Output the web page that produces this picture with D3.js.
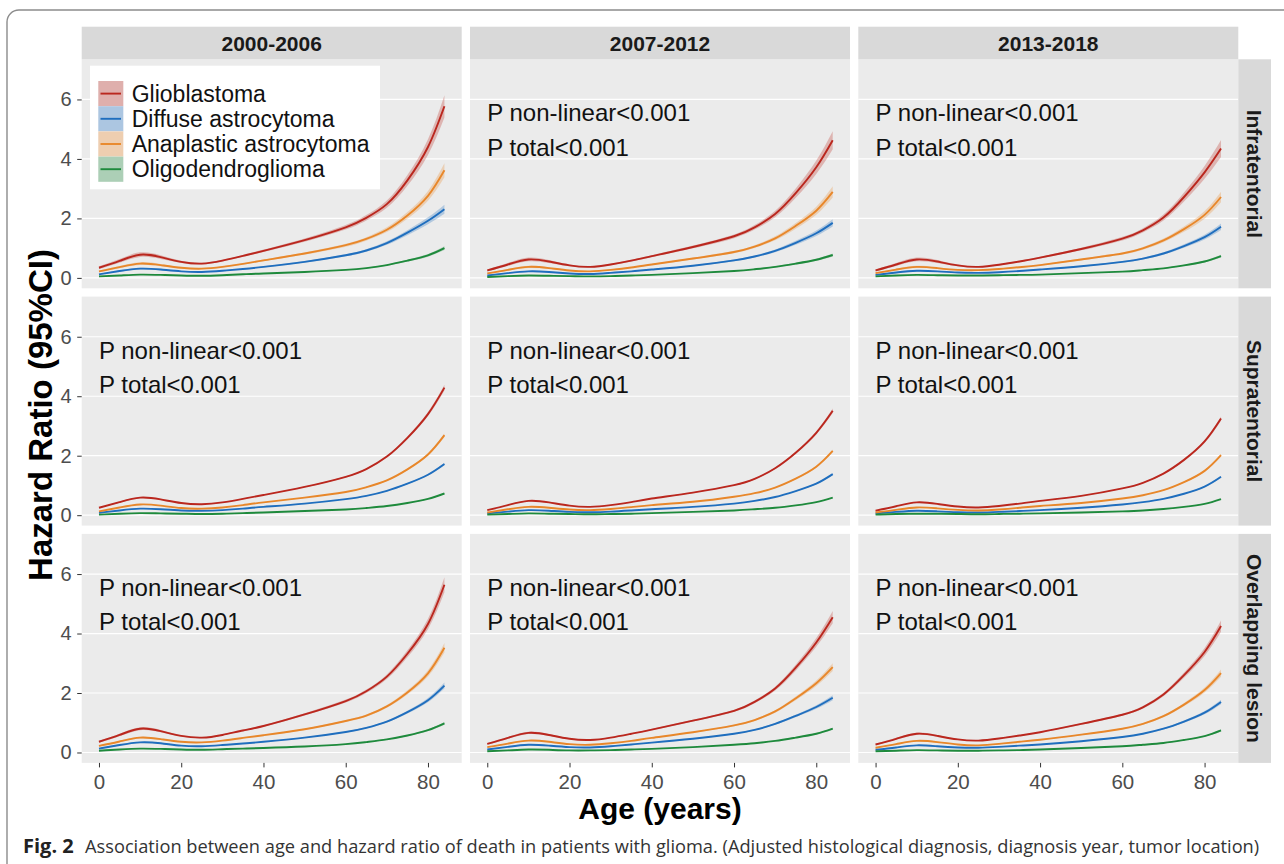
<!DOCTYPE html>
<html>
<head>
<meta charset="utf-8">
<script src="https://d3js.org/d3.v7.min.js"></script>
<style>
  body { margin: 0; background: #fff; }
  svg { display: block; }
</style>
</head>
<body>
<script>
// ---- data ----
const ages = [0, 5, 10, 15, 20, 25, 30, 35, 40, 50, 60, 65, 70, 75, 80, 84];

const periods = ['2000-2006', '2007-2012', '2013-2018'];
const locations = ['Infratentorial', 'Supratentorial', 'Overlapping lesion'];
const types = ['Glioblastoma', 'Diffuse astrocytoma', 'Anaplastic astrocytoma', 'Oligodendroglioma'];
const typeColors = ['#BA271E', '#1F6EBE', '#E8872A', '#1E8A3C'];

const xTicks = [0, 20, 40, 60, 80];
const yTicks = [0, 2, 4, 6];
const pLabels = ['P non-linear<0.001', 'P total<0.001'];

// hazard ratio per panel, rows in order of `types` (GBM, DA, AA, OD)
const infra2000 = [
  [0.34,0.57,0.78,0.70,0.54,0.48,0.58,0.74,0.91,1.27,1.70,2.02,2.48,3.28,4.40,5.77],
  [0.12,0.23,0.31,0.28,0.22,0.20,0.24,0.30,0.37,0.54,0.76,0.92,1.17,1.52,1.92,2.31],
  [0.22,0.36,0.48,0.43,0.34,0.31,0.37,0.47,0.59,0.82,1.10,1.31,1.62,2.10,2.76,3.62],
  [0.05,0.08,0.11,0.10,0.08,0.07,0.09,0.12,0.15,0.20,0.27,0.33,0.43,0.58,0.76,1.00]
];
const infra2007 = [
  [0.25,0.45,0.62,0.55,0.42,0.37,0.45,0.58,0.73,1.04,1.40,1.70,2.15,2.85,3.72,4.63],
  [0.08,0.16,0.22,0.20,0.15,0.13,0.17,0.22,0.28,0.41,0.59,0.72,0.91,1.18,1.50,1.85],
  [0.15,0.27,0.37,0.33,0.25,0.22,0.27,0.35,0.45,0.65,0.87,1.05,1.33,1.75,2.26,2.89],
  [0.03,0.06,0.08,0.07,0.06,0.05,0.06,0.08,0.10,0.16,0.23,0.29,0.37,0.48,0.61,0.77]
];
const infra2013 = [
  [0.25,0.45,0.62,0.55,0.42,0.37,0.44,0.55,0.68,0.97,1.32,1.60,2.03,2.72,3.55,4.35],
  [0.10,0.18,0.24,0.22,0.18,0.17,0.19,0.23,0.28,0.39,0.54,0.65,0.82,1.07,1.37,1.72],
  [0.16,0.28,0.37,0.33,0.27,0.26,0.30,0.36,0.43,0.62,0.82,0.99,1.26,1.64,2.12,2.72],
  [0.05,0.08,0.10,0.09,0.08,0.08,0.09,0.10,0.11,0.16,0.21,0.26,0.32,0.42,0.55,0.73]
];
const supra2000 = [
  [0.25,0.44,0.59,0.53,0.41,0.37,0.43,0.55,0.68,0.95,1.29,1.55,1.97,2.60,3.40,4.29],
  [0.08,0.16,0.22,0.20,0.16,0.15,0.17,0.22,0.28,0.39,0.54,0.65,0.82,1.06,1.36,1.72],
  [0.13,0.26,0.36,0.32,0.24,0.22,0.26,0.34,0.43,0.59,0.78,0.94,1.17,1.54,2.04,2.69],
  [0.02,0.05,0.07,0.06,0.05,0.04,0.05,0.07,0.09,0.14,0.19,0.24,0.31,0.41,0.55,0.73]
];
const supra2007 = [
  [0.17,0.34,0.48,0.43,0.32,0.28,0.34,0.44,0.56,0.76,1.01,1.22,1.58,2.10,2.77,3.51],
  [0.06,0.12,0.17,0.15,0.11,0.10,0.12,0.16,0.20,0.28,0.39,0.48,0.61,0.81,1.06,1.38],
  [0.09,0.20,0.28,0.25,0.19,0.17,0.21,0.27,0.34,0.45,0.62,0.74,0.93,1.23,1.63,2.16],
  [0.02,0.04,0.06,0.05,0.04,0.03,0.04,0.05,0.07,0.11,0.16,0.20,0.25,0.33,0.44,0.59]
];
const supra2013 = [
  [0.15,0.30,0.43,0.38,0.29,0.26,0.31,0.39,0.48,0.65,0.90,1.09,1.40,1.86,2.48,3.25],
  [0.06,0.11,0.15,0.13,0.10,0.09,0.11,0.14,0.17,0.25,0.36,0.44,0.55,0.72,0.96,1.29],
  [0.09,0.18,0.26,0.23,0.18,0.16,0.19,0.25,0.31,0.41,0.56,0.67,0.84,1.11,1.49,2.02],
  [0.02,0.04,0.05,0.05,0.04,0.03,0.04,0.05,0.06,0.09,0.13,0.16,0.21,0.28,0.38,0.54]
];
const overlap2000 = [
  [0.36,0.59,0.80,0.72,0.56,0.50,0.59,0.74,0.89,1.28,1.73,2.06,2.55,3.32,4.32,5.64],
  [0.13,0.25,0.34,0.31,0.23,0.21,0.25,0.30,0.36,0.50,0.69,0.83,1.04,1.36,1.76,2.25],
  [0.22,0.37,0.50,0.45,0.36,0.34,0.40,0.49,0.58,0.78,1.06,1.24,1.55,2.02,2.66,3.52],
  [0.06,0.10,0.13,0.12,0.10,0.09,0.11,0.13,0.15,0.20,0.28,0.35,0.44,0.57,0.75,0.98]
];
const overlap2007 = [
  [0.29,0.49,0.66,0.59,0.46,0.42,0.50,0.63,0.77,1.07,1.40,1.70,2.15,2.85,3.70,4.55],
  [0.10,0.19,0.26,0.23,0.18,0.17,0.21,0.27,0.33,0.46,0.63,0.76,0.96,1.23,1.53,1.84],
  [0.18,0.30,0.40,0.36,0.28,0.26,0.31,0.39,0.49,0.68,0.91,1.09,1.38,1.82,2.33,2.87],
  [0.04,0.07,0.10,0.09,0.07,0.07,0.08,0.10,0.12,0.18,0.26,0.31,0.39,0.50,0.63,0.80]
];
const overlap2013 = [
  [0.27,0.46,0.63,0.56,0.44,0.40,0.47,0.57,0.68,0.96,1.27,1.52,1.95,2.60,3.38,4.25],
  [0.09,0.17,0.24,0.21,0.17,0.16,0.19,0.23,0.27,0.38,0.52,0.63,0.80,1.04,1.34,1.70],
  [0.16,0.28,0.39,0.35,0.27,0.24,0.29,0.36,0.43,0.60,0.80,0.96,1.22,1.61,2.10,2.67],
  [0.04,0.06,0.08,0.07,0.06,0.06,0.07,0.08,0.10,0.15,0.21,0.26,0.32,0.42,0.55,0.74]
];

// 95% CI half width, as a fraction of HR, per location row
const ciInfra   = [0.14,0.11,0.10,0.09,0.07,0.06,0.05,0.045,0.045,0.045,0.045,0.045,0.05,0.055,0.06,0.065];
const ciSupra   = [0.05,0.04,0.035,0.03,0.025,0.02,0.018,0.016,0.015,0.015,0.015,0.015,0.016,0.018,0.02,0.022];
const ciOverlap = [0.09,0.07,0.06,0.05,0.04,0.035,0.03,0.028,0.028,0.028,0.028,0.028,0.03,0.035,0.04,0.045];

const panelData = [
  [infra2000, infra2007, infra2013],
  [supra2000, supra2007, supra2013],
  [overlap2000, overlap2007, overlap2013]
];
const ciRows = [ciInfra, ciSupra, ciOverlap];

// ---- layout ----
const W = 1284, H = 864;
const panelW = 380, panelH = 229;
const left0 = 81.7, top0 = 59.3;
const gapX = 8.3, gapY = 8.3;
const stripH = 32.6, stripW = 32.7;
const chartFont = '"Liberation Sans", Arial, Helvetica, sans-serif';

const svg = d3.select('body').append('svg')
  .attr('width', W)
  .attr('height', H)
  .style('font-family', chartFont);

svg.append('rect').attr('width', W).attr('height', H).attr('fill', '#fff');

// outer frame of the figure
svg.append('rect')
  .attr('x', 7).attr('y', 10)
  .attr('width', 1320).attr('height', 900)
  .attr('rx', 12)
  .attr('fill', 'none')
  .attr('stroke', '#8c8c8c')
  .attr('stroke-width', 1.4);

const x = d3.scaleLinear().domain([-4.2, 88.2]).range([0, panelW]);
const y = d3.scaleLinear().domain([-0.35, 7.35]).range([panelH, 0]);

const line = d3.line()
  .x(d => x(d.age))
  .y(d => y(d.hr))
  .curve(d3.curveNatural);

const area = d3.area()
  .x(d => x(d.age))
  .y0(d => y(d.lo))
  .y1(d => y(d.hi))
  .curve(d3.curveNatural);

for (let r = 0; r < locations.length; r++) {
  for (let c = 0; c < periods.length; c++) {

    const px = left0 + c * (panelW + gapX);
    const py = top0 + r * (panelH + gapY);
    const g = svg.append('g').attr('transform', `translate(${px},${py})`);

    g.append('rect')
      .attr('width', panelW).attr('height', panelH)
      .attr('fill', '#EBEBEB');

    g.selectAll('line.grid')
      .data(yTicks)
      .enter()
      .append('line')
        .attr('x1', 0).attr('x2', panelW)
        .attr('y1', d => y(d)).attr('y2', d => y(d))
        .attr('stroke', '#fff')
        .attr('stroke-width', 1.2);

    const series = panelData[r][c].map((vals, i) => ({
      type: i,
      pts: vals.map((v, j) => ({
        age: ages[j],
        hr: v,
        lo: v * (1 - ciRows[r][j]),
        hi: v * (1 + ciRows[r][j])
      }))
    }));

    g.selectAll('path.ribbon')
      .data(series)
      .enter()
      .append('path')
        .attr('d', d => area(d.pts))
        .attr('fill', d => typeColors[d.type])
        .attr('fill-opacity', 0.28);

    g.selectAll('path.hr')
      .data(series)
      .enter()
      .append('path')
        .attr('d', d => line(d.pts))
        .attr('fill', 'none')
        .attr('stroke', d => typeColors[d.type])
        .attr('stroke-width', 1.9);

    // P value labels (the top left one sits under the legend)
    if (!(r === 0 && c === 0)) {
      g.selectAll('text.pval')
        .data(pLabels)
        .enter()
        .append('text')
          .attr('x', x(0))
          .attr('y', (d, i) => y(i === 0 ? 5.55 : 4.4))
          .attr('dy', '0.36em')
          .attr('font-size', 24)
          .attr('fill', '#111')
          .text(d => d);
    }

    // y axis on the first column
    if (c === 0) {
      const ya = g.append('g')
        .call(d3.axisLeft(y).tickValues(yTicks).tickSize(4.5).tickPadding(5.5));
      ya.select('.domain').remove();
      ya.selectAll('line').attr('stroke', '#333');
      ya.selectAll('text')
        .attr('font-size', 20)
        .attr('fill', '#4D4D4D')
        .attr('font-family', chartFont);
    }

    // x axis on the last row
    if (r === locations.length - 1) {
      const xa = g.append('g')
        .attr('transform', `translate(0,${panelH})`)
        .call(d3.axisBottom(x).tickValues(xTicks).tickSize(4.5).tickPadding(6.8));
      xa.select('.domain').remove();
      xa.selectAll('line').attr('stroke', '#333');
      xa.selectAll('text')
        .attr('font-size', 20.5)
        .attr('fill', '#4D4D4D')
        .attr('font-family', chartFont);
    }
  }
}

// top strips
periods.forEach((p, c) => {
  const px = left0 + c * (panelW + gapX);
  svg.append('rect')
    .attr('x', px).attr('y', top0 - stripH)
    .attr('width', panelW).attr('height', stripH)
    .attr('fill', '#D9D9D9');
  svg.append('text')
    .attr('x', px + panelW / 2)
    .attr('y', top0 - stripH / 2)
    .attr('dy', '0.36em')
    .attr('text-anchor', 'middle')
    .attr('font-size', 21)
    .attr('font-weight', 'bold')
    .attr('fill', '#1A1A1A')
    .text(p);
});

// right strips
locations.forEach((loc, r) => {
  const sx = left0 + 3 * panelW + 2 * gapX;
  const py = top0 + r * (panelH + gapY);
  svg.append('rect')
    .attr('x', sx).attr('y', py)
    .attr('width', stripW).attr('height', panelH)
    .attr('fill', '#D9D9D9');
  svg.append('text')
    .attr('transform', `translate(${sx + stripW / 2},${py + panelH / 2}) rotate(90)`)
    .attr('dy', '0.36em')
    .attr('text-anchor', 'middle')
    .attr('font-size', 21)
    .attr('font-weight', 'bold')
    .attr('fill', '#1A1A1A')
    .text(loc);
});

// legend inside the first panel
const legend = svg.append('g');
legend.append('rect')
  .attr('x', 90).attr('y', 65.7)
  .attr('width', 290).attr('height', 123.6)
  .attr('fill', '#fff');

const keyH = 25.2;
types.forEach((t, i) => {
  const ky = 81 + i * keyH;
  legend.append('rect')
    .attr('x', 98.3).attr('y', ky)
    .attr('width', 25).attr('height', keyH)
    .attr('fill', '#F2F2F2');
  legend.append('rect')
    .attr('x', 98.3).attr('y', ky)
    .attr('width', 25).attr('height', keyH)
    .attr('fill', typeColors[i])
    .attr('fill-opacity', 0.33);
  legend.append('line')
    .attr('x1', 100.5).attr('x2', 121)
    .attr('y1', ky + keyH / 2).attr('y2', ky + keyH / 2)
    .attr('stroke', typeColors[i])
    .attr('stroke-width', 1.9);
  legend.append('text')
    .attr('x', 131.7)
    .attr('y', ky + keyH / 2)
    .attr('dy', '0.36em')
    .attr('font-size', 23)
    .attr('fill', '#111')
    .text(t);
});

// axis titles
svg.append('text')
  .attr('transform', 'translate(52,415) rotate(-90)')
  .attr('text-anchor', 'middle')
  .attr('font-size', 33)
  .attr('font-weight', 'bold')
  .attr('fill', '#000')
  .text('Hazard Ratio (95%CI)');

svg.append('text')
  .attr('x', left0 + (3 * panelW + 2 * gapX) / 2)
  .attr('y', 819)
  .attr('text-anchor', 'middle')
  .attr('font-size', 30)
  .attr('font-weight', 'bold')
  .attr('fill', '#000')
  .text('Age (years)');

// figure caption
const capFont = '"Open Sans", "Noto Sans", sans-serif';
svg.append('text')
  .attr('x', 23).attr('y', 853)
  .attr('font-family', capFont)
  .attr('font-size', 20)
  .attr('font-weight', 'bold')
  .attr('fill', '#222')
  .text('Fig. 2');

const cap = svg.append('text')
  .attr('x', 85).attr('y', 853)
  .attr('font-family', capFont)
  .attr('font-size', 20)
  .attr('fill', '#333')
  .text('Association between age and hazard ratio of death in patients with glioma. (Adjusted histological diagnosis, diagnosis year, tumor location)');

// fit caption to the width it has in the figure
const capW = cap.node().getComputedTextLength();
cap.attr('font-size', 20 * 1175 / capW);
</script>
</body>
</html>
